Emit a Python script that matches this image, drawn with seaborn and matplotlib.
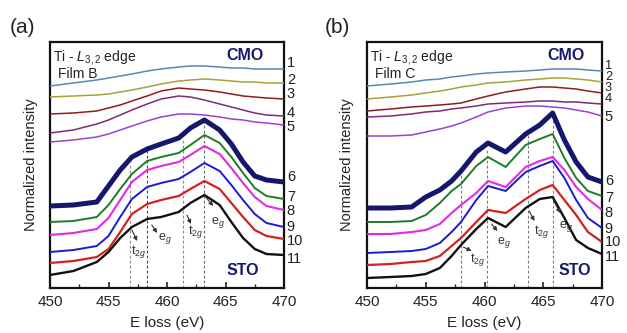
import matplotlib
matplotlib.use("Agg")
import matplotlib.pyplot as plt
import seaborn as sns
import pandas as pd

# ---------------- data (normalized intensity, arbitrary units, offset stacked) ----------------
energy_a = [450, 452, 454, 455, 456, 457, 458.3, 459.5, 461, 462, 463.2, 464.5, 465.5, 466.5, 467.5, 468.5, 470]
filmB_1 = [202, 205, 208, 210, 212, 214, 217, 219, 221, 222, 222, 221, 220, 220, 219, 219, 219]
filmB_2 = [191, 192, 193, 194, 196, 198, 201, 204, 207, 208, 209, 208, 207, 206, 206, 205, 205]
filmB_3 = [174, 175, 177, 180, 183, 187, 192, 197, 200, 199, 198, 196, 194, 192, 191, 190, 189]
filmB_4 = [155, 158, 164, 168, 173, 178, 184, 189, 192, 191, 188, 184, 181, 178, 175, 173, 172]
filmB_5 = [146, 148, 151, 154, 158, 162, 167, 171, 174, 174, 173, 171, 169, 168, 166, 165, 163]
filmB_6 = [82, 83, 86, 102, 118, 131, 139, 144, 150, 160, 168, 158, 144, 126, 112, 108, 106]
filmB_7 = [66, 67, 71, 83, 99, 114, 127, 131, 135, 143, 153, 145, 131, 115, 100, 92, 89]
filmB_8 = [53, 55, 59, 70, 88, 106, 118, 122, 126, 133, 142, 134, 120, 105, 91, 82, 78]
filmB_9 = [36, 38, 42, 52, 71, 89, 101, 105, 109, 116, 125, 117, 103, 88, 74, 65, 61]
filmB_10 = [25, 27, 31, 39, 56, 74, 84, 88, 92, 99, 107, 99, 85, 71, 58, 52, 49]
filmB_11 = [13, 17, 26, 36, 50, 61, 69, 71, 76, 85, 93, 83, 66, 50, 39, 34, 33]

energy_b = [450, 452, 453.8, 455, 456.2, 457.2, 458, 459.3, 460.3, 461.8, 463.5, 464.7, 465.8, 466.8, 467.8, 468.8, 470]
filmC_1 = [202, 204, 206, 208, 209, 211, 212, 214, 215, 216, 217, 218, 219, 219, 219, 218, 217]
filmC_2 = [189, 191, 193, 195, 197, 199, 201, 203, 205, 206, 208, 209, 210, 210, 209, 208, 206]
filmC_3 = [177, 179, 181, 182, 183, 184, 185, 189, 192, 196, 199, 201, 201, 200, 199, 197, 195]
filmC_4 = [171, 172, 174, 176, 177, 179, 180, 182, 184, 185, 186, 187, 187, 186, 186, 185, 184]
filmC_5 = [152, 152, 153, 156, 159, 162, 165, 171, 176, 180, 182, 182, 181, 180, 178, 176, 172]
filmC_6 = [80, 80, 81, 91, 98, 107, 117, 136, 145, 136, 154, 163, 175, 148, 126, 111, 106]
filmC_7 = [66, 66, 67, 73, 85, 97, 104, 122, 131, 121, 143, 149, 154, 130, 110, 97, 92]
filmC_8 = [54, 54, 56, 58, 64, 75, 83, 95, 107, 101, 121, 127, 131, 118, 101, 89, 78]
filmC_9 = [35, 36, 37, 39, 45, 56, 66, 88, 102, 97, 116, 122, 127, 110, 88, 70, 60]
filmC_10 = [23, 24, 26, 27, 32, 42, 50, 66, 78, 75, 89, 98, 103, 88, 73, 56, 46]
filmC_11 = [10, 11, 12, 14, 20, 32, 43, 59, 70, 61, 80, 89, 91, 70, 48, 40, 34]

curve_labels = ["1", "2", "3", "4", "5", "6", "7", "8", "9", "10", "11"]

# peak / feature markers (eV)
marks_a = [456.8, 458.3, 461.4, 463.2]
marks_b = [458.0, 460.2, 463.7, 465.8]
peak_names = ["t$_{2g}$", "e$_g$", "t$_{2g}$", "e$_g$"]

# ---------------- styles / layout ----------------
colors = ["#5788b8", "#a9a23a", "#8e1c22", "#7d2a78", "#9a3fd8",
          "#15176e", "#1d7d25", "#e22be0", "#1a1ad2", "#d42020", "#111111"]
widths = [1.1, 1.1, 1.1, 1.1, 1.1, 3.6, 1.4, 1.5, 1.4, 1.6, 1.7]

sns.set_style("ticks")
plt.rcParams["font.family"] = ["Liberation Sans", "DejaVu Sans"]
plt.rcParams["mathtext.fontset"] = "custom"
plt.rcParams["mathtext.rm"] = "Liberation Sans"
plt.rcParams["mathtext.it"] = "Liberation Sans:italic"

fig = plt.figure(figsize=(6.27, 3.33), dpi=100)
axA = fig.add_axes([50 / 627, 45 / 333, 234 / 627, 246 / 333])
axB = fig.add_axes([367 / 627, 45 / 333, 235 / 627, 246 / 333])

panels = [
    (axA, energy_a, [filmB_1, filmB_2, filmB_3, filmB_4, filmB_5, filmB_6,
                     filmB_7, filmB_8, filmB_9, filmB_10, filmB_11], "Film B", marks_a),
    (axB, energy_b, [filmC_1, filmC_2, filmC_3, filmC_4, filmC_5, filmC_6,
                     filmC_7, filmC_8, filmC_9, filmC_10, filmC_11], "Film C", marks_b),
]

label_y = {
    "a": [225, 208, 194, 175, 161, 111, 91, 77, 61, 47, 29],
    "b": [222, 211, 200, 189, 171, 107, 90, 75, 59, 46, 31],
}
label_fs = {"a": [10.5] * 11, "b": [9.3] * 4 + [10.5] * 7}
mark_tops = {"a": [125, 140, 148, 166], "b": [118, 140, 153, 173]}
mark_cols = {"a": ["#8a8a8a", "#444444", "#8a8a8a", "#666666"],
             "b": ["#777777", "#777777", "#777777", "#777777"]}
# arrows: (tail E, tail h, head E, head h, text E, text h)
arrows = {
    "a": [(457.0, 58, 457.45, 47, 457.6, 37),
          (458.7, 63, 459.15, 55, 459.8, 50),
          (461.7, 73, 462.05, 64, 462.45, 56),
          (463.3, 91, 463.95, 82, 464.35, 65)],
    "b": [(458.2, 41, 458.9, 37, 459.4, 29),
          (460.6, 64, 461.1, 57, 461.65, 46),
          (463.8, 77, 464.25, 67, 464.85, 57),
          (465.9, 87, 466.45, 75, 466.95, 62)],
}

for key, (ax, energy, curves, film, marks) in zip(["a", "b"], panels):
    for i, vals in enumerate(curves):
        df = pd.DataFrame({"E": energy, "I": vals})
        sns.lineplot(data=df, x="E", y="I", ax=ax, color=colors[i],
                     linewidth=widths[i], estimator=None, sort=False,
                     solid_joinstyle="round", solid_capstyle="butt", zorder=3)
        ax.text(1.012, label_y[key][i], curve_labels[i],
                transform=ax.get_yaxis_transform(), fontsize=label_fs[key][i],
                ha="left", va="center", color="#222222", clip_on=False)
    for m, top, c in zip(marks, mark_tops[key], mark_cols[key]):
        ax.plot([m, m], [0, top], ls=(0, (2.5, 2)), lw=0.8, color=c, zorder=2)
    for (te, th, he, hh, xe, xh), name in zip(arrows[key], peak_names):
        ax.annotate("", xy=(he, hh), xytext=(te, th),
                    arrowprops=dict(arrowstyle="-|>", lw=0.8, color="#333333",
                                    mutation_scale=6, shrinkA=0, shrinkB=0), zorder=4)
        ax.text(xe, xh, name, fontsize=9, color="#333333", ha="center", va="center")

    ax.set_xlim(450, 470)
    ax.set_ylim(0, 246)
    ax.set_xticks([450, 455, 460, 465, 470])
    ax.set_xticks([452.5, 457.5, 462.5, 467.5], minor=True)
    ax.set_yticks([])
    ax.tick_params(axis="x", which="major", direction="in", length=4, width=1.2,
                   labelsize=11, pad=5, colors="#222222")
    ax.tick_params(axis="x", which="minor", direction="in", length=3, width=1.0)
    for s in ax.spines.values():
        s.set_visible(True)
        s.set_linewidth(1.6)
        s.set_color("#111111")
    ax.set_xlabel("E loss (eV)", fontsize=11, labelpad=5, color="#222222")
    ax.set_ylabel("Normalized intensity", fontsize=10.5, labelpad=9, color="#222222")

    ax.text(0.012, 0.975, "Ti - $L_{3,2}$ edge", transform=ax.transAxes,
            fontsize=10, ha="left", va="top", color="#222222")
    ax.text(0.035, 0.9, film, transform=ax.transAxes,
            fontsize=10, ha="left", va="top", color="#222222")
    ax.text(0.835 if key == "a" else 0.845, 0.945, "CMO", transform=ax.transAxes,
            fontsize=11.5, fontweight="bold", color="#16186e", ha="center", va="center")
    ax.text(0.825 if key == "a" else 0.885, 0.073, "STO", transform=ax.transAxes,
            fontsize=11.5, fontweight="bold", color="#16186e", ha="center", va="center")

fig.text(10 / 627, 1 - 18 / 333, "(a)", fontsize=15, ha="left", va="top", color="#222222")
fig.text(325 / 627, 1 - 18 / 333, "(b)", fontsize=15, ha="left", va="top", color="#222222")

fig.savefig("out.png", dpi=100)
